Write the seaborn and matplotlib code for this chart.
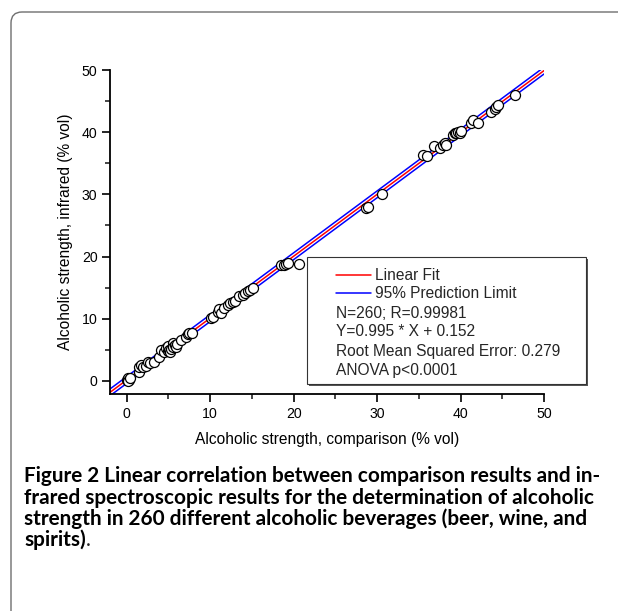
import numpy as np
import pandas as pd
import matplotlib
matplotlib.use("Agg")
import matplotlib.pyplot as plt
from matplotlib.patches import FancyBboxPatch, Rectangle
from matplotlib.lines import Line2D
from matplotlib.transforms import IdentityTransform
from matplotlib.ticker import MultipleLocator
import seaborn as sns

# ---------------- data ----------------
comparison = [0.0, 0.1, 0.2, 0.3, 0.1, 0.4,
              1.5, 1.5, 1.7, 2.0, 2.3, 2.5, 2.8, 3.3,
              3.9, 4.1, 4.5, 4.7, 4.9, 5.0, 5.1, 5.2, 5.3, 5.5, 5.6, 5.8, 5.9, 6.0, 6.5, 7.1, 7.3, 7.5, 7.8,
              10.1, 10.3, 10.9, 11.1, 11.3, 11.7, 12.1, 12.4, 12.7, 13.0, 13.5, 13.9, 14.2, 14.5, 14.8, 15.1,
              18.5, 18.9, 19.1, 19.3, 20.6,
              28.7, 28.9, 30.6,
              35.5, 36.0, 36.8, 37.5, 37.9, 38.1, 38.3, 39.1, 39.3, 39.5, 39.7, 39.9, 40.1,
              41.3, 41.5, 42.1, 43.7, 44.1, 44.3, 44.5, 46.5]
infrared = [0.1, 0.3, 0.5, 0.2, 0.0, 0.4,
            1.5, 2.3, 2.5, 2.2, 2.4, 3.1, 2.9, 3.1,
            3.9, 5.0, 4.6, 5.3, 4.8, 5.6, 5.0, 4.7, 5.2, 6.1, 5.5, 5.8, 5.4, 6.0, 6.6, 7.1, 7.5, 7.7, 7.7,
            10.1, 10.3, 11.1, 11.5, 11.0, 11.7, 12.2, 12.6, 12.7, 12.9, 13.6, 13.8, 14.1, 14.4, 14.6, 14.9,
            18.6, 18.6, 18.8, 18.9, 18.8,
            27.8, 28.0, 30.0,
            36.3, 36.1, 37.7, 37.4, 37.9, 38.2, 38.0, 39.5, 39.9, 39.8, 40.1, 39.8, 40.2,
            41.4, 42.0, 41.4, 43.3, 43.8, 44.1, 44.4, 45.9]

fit_slope = 0.995
fit_intercept = 0.152
rmse = 0.279
pred_half_width = 1.96 * rmse

x_ticks = [0, 10, 20, 30, 40, 50]
y_ticks = [0, 10, 20, 30, 40, 50]
x_limits = (-2.0, 50.0)
y_limits = (-2.1, 50.0)

legend_lines = ["Linear Fit", "95% Prediction Limit"]
legend_texts = ["N=260; R=0.99981", "Y=0.995 * X + 0.152",
                "Root Mean Squared Error: 0.279", "ANOVA p<0.0001"]

x_label = "Alcoholic strength, comparison (% vol)"
y_label = "Alcoholic strength, infrared (% vol)"

caption_lines = [
    "Figure 2 Linear correlation between comparison results and in-",
    "frared spectroscopic results for the determination of alcoholic",
    "strength in 260 different alcoholic beverages (beer, wine, and",
    "spirits)",
]
caption_tail = "."

# ---------------- figure ----------------
sns.set_style("white")
plt.rcParams['font.family'] = ['Liberation Sans', 'DejaVu Sans']

W, H = 618, 611
fig = plt.figure(figsize=(W / 100, H / 100), dpi=100)
fig.patch.set_facecolor("white")

# outer rounded frame
frame = FancyBboxPatch((11, -40), 700, H - 12 + 40,
                       boxstyle="round,pad=0,rounding_size=11",
                       transform=IdentityTransform(), fill=False,
                       edgecolor="#6f6f6f", linewidth=1.0)
fig.add_artist(frame)

ax_l, ax_r, ax_t, ax_b = 110, 544, 70, 394
ax = fig.add_axes([ax_l / W, 1 - ax_b / H, (ax_r - ax_l) / W, (ax_b - ax_t) / H])
ax.set_facecolor("none")

# fit and prediction lines
xs = np.array(x_limits)
line_df = pd.DataFrame({
    "x": np.concatenate([xs, xs, xs]),
    "y": np.concatenate([fit_slope * xs + fit_intercept + pred_half_width,
                         fit_slope * xs + fit_intercept - pred_half_width,
                         fit_slope * xs + fit_intercept]),
    "kind": ["upper"] * 2 + ["lower"] * 2 + ["fit"] * 2,
})
sns.lineplot(data=line_df, x="x", y="y", hue="kind", units="kind", estimator=None,
             palette={"upper": "#0000ff", "lower": "#0000ff", "fit": "#ff0000"},
             linewidth=1.1, legend=False, ax=ax, zorder=2)

pts = pd.DataFrame({"comparison": comparison, "infrared": infrared})
sns.scatterplot(data=pts, x="comparison", y="infrared", s=52, marker="o",
                facecolor="white", edgecolor="black", linewidth=0.9,
                ax=ax, zorder=3, legend=False)

ax.set_xlim(*x_limits)
ax.set_ylim(*y_limits)
ax.set_xticks(x_ticks)
ax.set_yticks(y_ticks)
ax.xaxis.set_minor_locator(MultipleLocator(5))
ax.yaxis.set_minor_locator(MultipleLocator(5))
for s in ["top", "right"]:
    ax.spines[s].set_visible(False)
for s in ["left", "bottom"]:
    ax.spines[s].set_linewidth(1.3)
    ax.spines[s].set_color("black")
ax.tick_params(which="major", direction="out", length=6, width=1.2, labelsize=10.2,
               colors="black", pad=3, bottom=True, left=True)
ax.tick_params(which="minor", direction="out", length=3.5, width=1.2,
               bottom=True, left=True)
ax.set_xlabel(x_label, fontsize=11.2, labelpad=8, color="black")
ax.set_ylabel(y_label, fontsize=11.2, labelpad=6, color="black")

# ---------------- legend box (figure pixel coords) ----------------
lx0, lx1, ly0, ly1 = 307, 586, 257, 384
def fx(px):
    return px / W
def fy(py):
    return 1 - py / H

shadow = Rectangle((fx(lx0 + 2), fy(ly1 + 2)), fx(lx1) - fx(lx0), fy(ly0) - fy(ly1),
                   transform=fig.transFigure, facecolor="#555555", edgecolor="none", zorder=5)
box = Rectangle((fx(lx0), fy(ly1)), fx(lx1) - fx(lx0), fy(ly0) - fy(ly1),
                transform=fig.transFigure, facecolor="white", edgecolor="#333333",
                linewidth=0.8, zorder=6)
fig.add_artist(shadow)
fig.add_artist(box)

row_y = [275, 293.5, 313, 332, 351, 370]
handle_x0, handle_x1, text_x = 336, 371, 375
leg_size = 11.2
for i, (lab, col) in enumerate(zip(legend_lines, ["#ff0000", "#0000ff"])):
    fig.add_artist(Line2D([fx(handle_x0), fx(handle_x1)], [fy(row_y[i]), fy(row_y[i])],
                          transform=fig.transFigure, color=col, linewidth=1.1, zorder=7))
    fig.text(fx(text_x), fy(row_y[i]), lab, fontsize=leg_size, va="center", ha="left", zorder=7)
for j, t in enumerate(legend_texts):
    fig.text(fx(handle_x0), fy(row_y[j + 2]), t, fontsize=leg_size, va="center", ha="left", zorder=7)

# ---------------- caption ----------------
cap_font = ['Lato', 'DejaVu Sans']
cap_weight = "bold"
cap_x = 24
cap_base = [482, 503.5, 525, 546]
target_w = 574
fig.canvas.draw()
renderer = fig.canvas.get_renderer()
probe = fig.text(0, 0, caption_lines[0], fontsize=12, family=cap_font, weight=cap_weight)
w0 = probe.get_window_extent(renderer).width
probe.remove()
cap_size = 12 * target_w / w0

last = None
for i, line in enumerate(caption_lines):
    last = fig.text(fx(cap_x), fy(cap_base[i]), line, fontsize=cap_size, family=cap_font,
                    weight=cap_weight, va="baseline", ha="left", color="black")
ext = last.get_window_extent(renderer)
fig.text(fx(ext.x1 + 0.5), fy(cap_base[-1]), caption_tail, fontsize=cap_size,
         family=cap_font, weight="normal", va="baseline", ha="left")

fig.savefig("out.png", dpi=100, facecolor="white")
